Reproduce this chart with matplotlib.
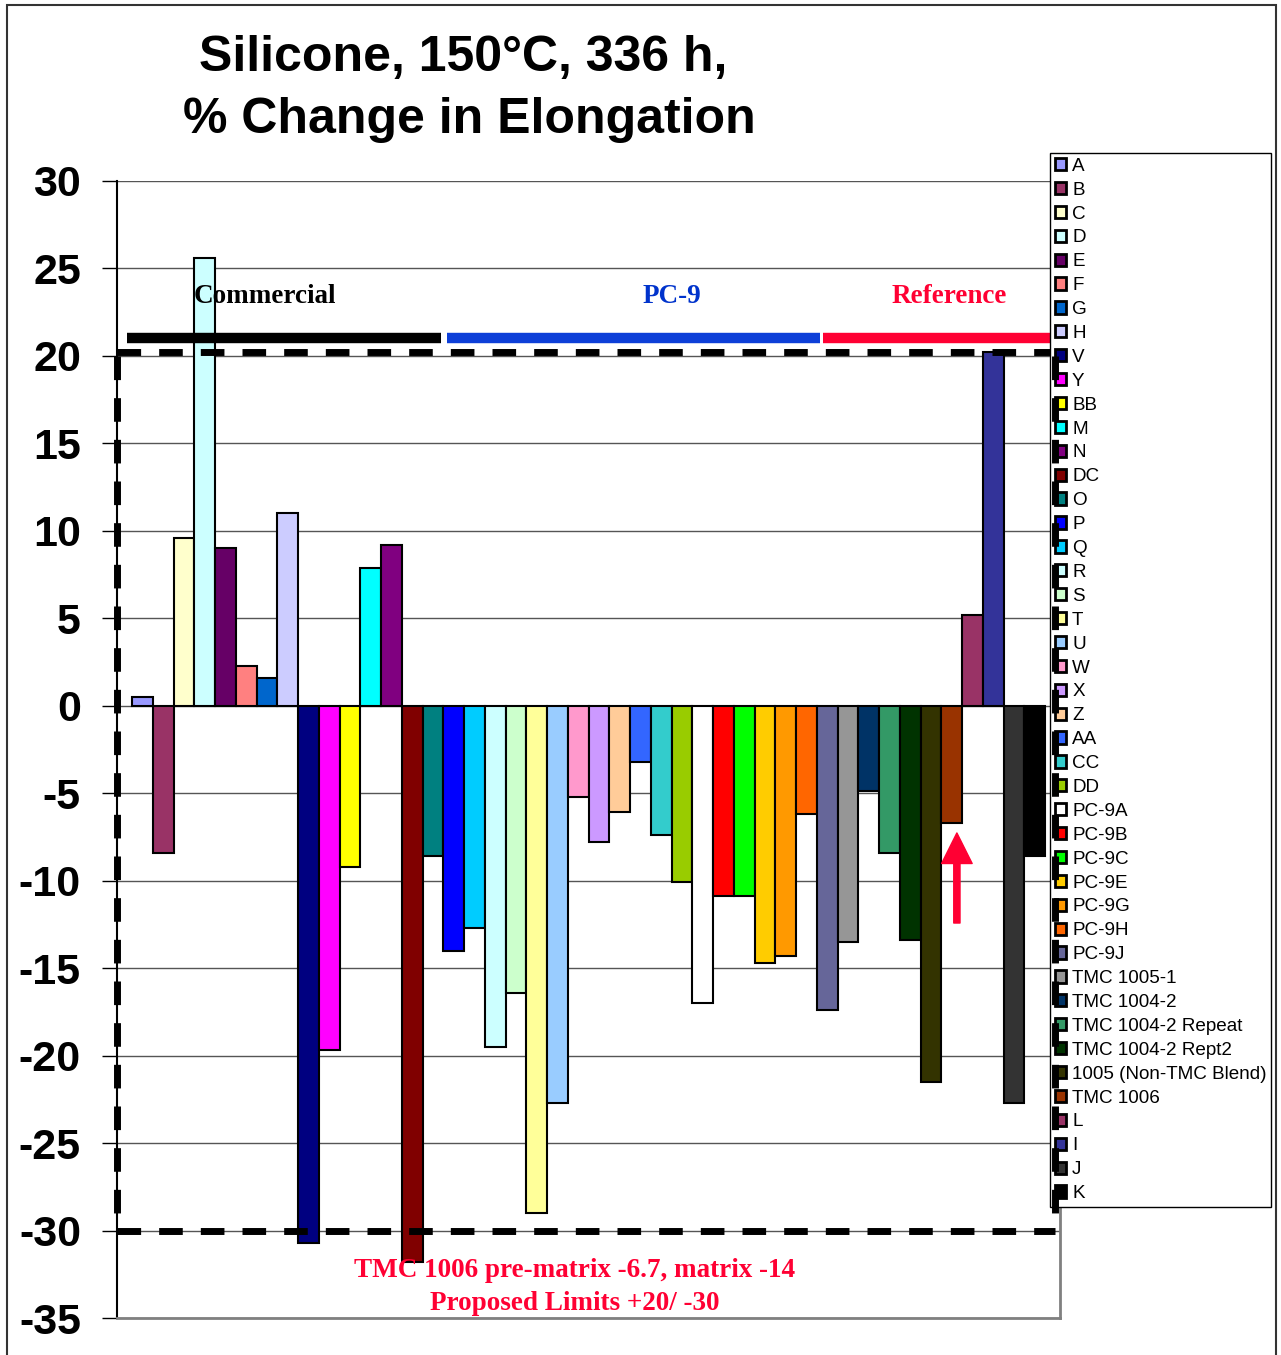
import matplotlib
matplotlib.use('Agg')
import matplotlib.pyplot as plt
from matplotlib.patches import Rectangle

# samples in plotting order, one bar (and one legend entry) each
samples = ['A', 'B', 'C', 'D', 'E', 'F', 'G', 'H', 'V', 'Y', 'BB', 'M', 'N', 'DC',
           'O', 'P', 'Q', 'R', 'S', 'T', 'U', 'W', 'X', 'Z', 'AA', 'CC', 'DD',
           'PC-9A', 'PC-9B', 'PC-9C', 'PC-9E', 'PC-9G', 'PC-9H', 'PC-9J',
           'TMC 1005-1', 'TMC 1004-2', 'TMC 1004-2 Repeat', 'TMC 1004-2 Rept2',
           '1005 (Non-TMC Blend)', 'TMC 1006', 'L', 'I', 'J', 'K']

pct_change = [0.5, -8.4, 9.6, 25.6, 9.0, 2.3, 1.6, 11.0, -30.7, -19.7, -9.2, 7.9, 9.2, -31.8,
              -8.6, -14.0, -12.7, -19.5, -16.4, -29.0, -22.7, -5.2, -7.8, -6.1, -3.2, -7.4, -10.1,
              -17.0, -10.9, -10.9, -14.7, -14.3, -6.2, -17.4,
              -13.5, -4.9, -8.4, -13.4,
              -21.5, -6.7, 5.2, 20.2, -22.7, -8.6]

colors = ['#9999FF', '#993366', '#FFFFCC', '#CCFFFF', '#660066', '#FF8080', '#0066CC', '#CCCCFF',
          '#000080', '#FF00FF', '#FFFF00', '#00FFFF', '#800080', '#800000',
          '#008080', '#0000FF', '#00CCFF', '#CCFFFF', '#CCFFCC', '#FFFF99', '#99CCFF', '#FF99CC',
          '#CC99FF', '#FFCC99', '#3366FF', '#33CCCC', '#99CC00',
          '#FFFFFF', '#FF0000', '#00FF00', '#FFCC00', '#FF9900', '#FF6600', '#666699',
          '#969696', '#003366', '#339966', '#003300',
          '#333300', '#993300', '#993366', '#333399', '#333333', '#000000']

yticks = list(range(-35, 31, 5))
upper_limit, lower_limit = 20, -30

W, H = 1281, 1355
fig = plt.figure(figsize=(W / 100, H / 100), dpi=100)
ax = fig.add_axes([117 / W, 1 - 1318 / H, (1060 - 117) / W, (1318 - 181) / H])

x = list(range(len(samples)))
bars = ax.bar(x, pct_change, width=1.0, color=colors, edgecolor='black',
              linewidth=1.5, zorder=3)

ax.set_xlim(-1.23, 44.22)
ax.set_ylim(-35, 30)
ax.set_yticks(yticks)
ax.set_yticklabels([str(v) for v in yticks], fontsize=31, fontweight='bold',
                   family='Liberation Sans')
ax.tick_params(axis='y', length=11, width=1, pad=15, color='black')
ax.set_xticks([])
ax.grid(axis='y', color='#555555', linewidth=1, zorder=0)
ax.spines['left'].set_color('black')
ax.spines['left'].set_linewidth(1.5)
ax.spines['top'].set_visible(False)
for side in ('right', 'bottom'):
    ax.spines[side].set_color('#808080')
    ax.spines[side].set_linewidth(2)

# proposed limit box
dash = (0, (3.4, 2.6))
ax.plot([-1.23, 43.98], [upper_limit + 0.2] * 2, color='black', lw=5, ls=dash, zorder=4)
ax.plot([-1.23, 43.98], [lower_limit - 0.05] * 2, color='black', lw=5, ls=dash, zorder=4)
ax.plot([-1.23, -1.23], [upper_limit, lower_limit], color='black', lw=5, ls=dash,
        zorder=4, clip_on=False)
ax.plot([43.98, 43.98], [upper_limit, lower_limit], color='black', lw=5, ls=dash, zorder=7)

# group bars and group names
ax.plot([-0.75, 14.4], [21, 21], color='black', lw=7.5, solid_capstyle='butt', zorder=4)
ax.plot([14.67, 32.65], [21, 21], color='#0D3FD8', lw=7.5, solid_capstyle='butt', zorder=4)
ax.plot([32.8, 44.08], [21, 21], color='#FF0033', lw=7.5, solid_capstyle='butt', zorder=4,
        clip_on=False)
serif = dict(family='Liberation Serif', fontweight='bold', fontsize=19.5,
             ha='center', va='center', zorder=6)
ax.text(5.9, 23.4, 'Commercial', color='black', **serif)
ax.text(25.5, 23.4, 'PC-9', color='#0033CC', **serif)
ax.text(38.9, 23.4, 'Reference', color='#FF0033', **serif)
ax.text(20.84, -32.3, 'TMC 1006 pre-matrix -6.7, matrix -14', color='#FF0033', **serif)
ax.text(20.84, -34.15, 'Proposed Limits +20/ -30', color='#FF0033', **serif)

# arrow pointing at TMC 1006
ax.annotate('', xy=(39.25, -7.27), xytext=(39.25, -12.42),
            arrowprops=dict(arrowstyle='simple,head_length=2.2,head_width=2.2,tail_width=0.45',
                            mutation_scale=10, color='#FF0033', shrinkA=0, shrinkB=0),
            zorder=6)

leg = ax.legend(list(bars.patches), samples, loc='upper left',
                bbox_to_anchor=(1050 / W, 1 - 153 / H), bbox_transform=fig.transFigure,
                prop={'family': 'Liberation Sans', 'size': 13.6},
                handlelength=0.62, handleheight=0.62, handletextpad=0.3,
                labelspacing=0.365, borderpad=0.25, borderaxespad=0,
                fancybox=False, framealpha=1, edgecolor='black')
leg.get_frame().set_linewidth(1)
leg.set_zorder(5)
for p in leg.get_patches():
    p.set_linewidth(2)

fig.text(463 / W, 1 - 58 / H, 'Silicone, 150°C, 336 h,', ha='center', va='center',
         fontsize=36, fontweight='bold', family='Liberation Sans')
fig.text(469 / W, 1 - 120 / H, '% Change in Elongation', ha='center', va='center',
         fontsize=36, fontweight='bold', family='Liberation Sans')

fig.patches.append(Rectangle((7 / W, -0.01), (1276 - 7) / W, 1 - 5 / H + 0.01,
                             transform=fig.transFigure, fill=False,
                             edgecolor='#333333', linewidth=1.5))

fig.savefig('out.png', dpi=100)
